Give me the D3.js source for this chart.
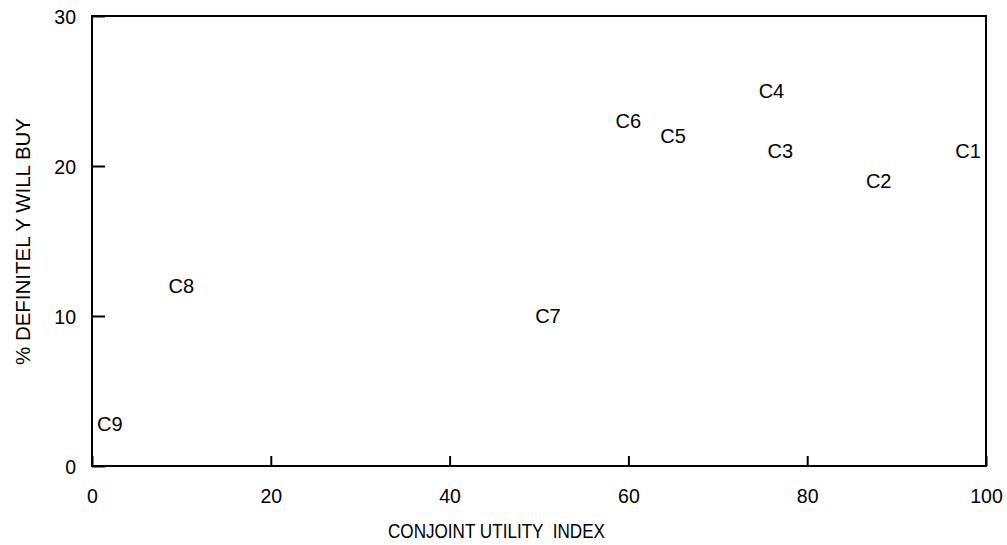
<!DOCTYPE html>
<html>
<head>
<meta charset="utf-8">
<script src="https://cdn.jsdelivr.net/npm/d3@7"></script>
<style>
  html, body { margin: 0; padding: 0; background: #fff; }
  svg { display: block; font-family: "Liberation Sans", Arial, sans-serif; }
</style>
</head>
<body>
<svg id="chart" width="1007" height="545"></svg>
<script>
// ---- data ----
const labels = ["C1", "C2", "C3", "C4", "C5", "C6", "C7", "C8", "C9"];
const utility = [98, 88, 77, 76, 65, 60, 51, 10, 2];
const definitelyBuy = [21, 19, 21, 25, 22, 23, 10, 12, 2.8];
const xTicks = [0, 20, 40, 60, 80, 100];
const yTicks = [0, 10, 20, 30];
const xTitle = "CONJOINT UTILITY  INDEX";
const yTitle = "% DEFINITEL Y WILL BUY";

const svg = d3.select("#chart");
const x = d3.scaleLinear().domain([0, 100]).range([92, 986]);
const y = d3.scaleLinear().domain([0, 30]).range([466, 16]);

const fontFam = "'Liberation Sans', Arial, sans-serif";

// X axis
const gx = svg.append("g").attr("transform", `translate(0,${y(0)})`)
  .call(d3.axisBottom(x).tickValues(xTicks).tickSizeInner(-10).tickSizeOuter(0).tickPadding(0).tickFormat(d3.format("d")));
gx.select(".domain").remove();
gx.selectAll(".tick line").attr("stroke", "#000").attr("stroke-width", 2);
gx.selectAll(".tick text").attr("y", 0).attr("dy", 37).attr("fill", "#000")
  .style("font-size", "19.5px").style("font-family", fontFam);

// Y axis
const gy = svg.append("g").attr("transform", `translate(${x(0)},0)`)
  .call(d3.axisLeft(y).tickValues(yTicks).tickSizeInner(-13).tickSizeOuter(0).tickPadding(0).tickFormat(d3.format("d")));
gy.select(".domain").remove();
gy.selectAll(".tick line").attr("stroke", "#000").attr("stroke-width", 2);
gy.selectAll(".tick text").attr("x", -16).attr("dy", "0.4em").attr("fill", "#000")
  .style("font-size", "19.5px").style("font-family", fontFam);

// Frame
svg.append("rect")
  .attr("x", x(0)).attr("y", y(30))
  .attr("width", x(100) - x(0)).attr("height", y(0) - y(30))
  .attr("fill", "none").attr("stroke", "#000").attr("stroke-width", 2);

// Point labels
svg.append("g").selectAll("text")
  .data(labels.map((l, i) => ({ l, x: utility[i], y: definitelyBuy[i] })))
  .join("text")
  .attr("x", d => x(d.x))
  .attr("y", d => y(d.y))
  .attr("dy", "0.36em")
  .attr("text-anchor", "middle")
  .style("font-size", "20px")
  .attr("fill", "#000")
  .text(d => d.l);

// Axis titles
svg.append("text")
  .attr("x", 388).attr("y", 538)
  .attr("textLength", 217).attr("lengthAdjust", "spacingAndGlyphs")
  .style("font-size", "20px").attr("fill", "#000")
  .attr("xml:space", "preserve")
  .text(xTitle);

svg.append("text")
  .attr("transform", "translate(30,365) rotate(-90)")
  .attr("x", 0).attr("y", 0)
  .attr("textLength", 247).attr("lengthAdjust", "spacingAndGlyphs")
  .style("font-size", "20px").attr("fill", "#000")
  .text(yTitle);
</script>
</body>
</html>
